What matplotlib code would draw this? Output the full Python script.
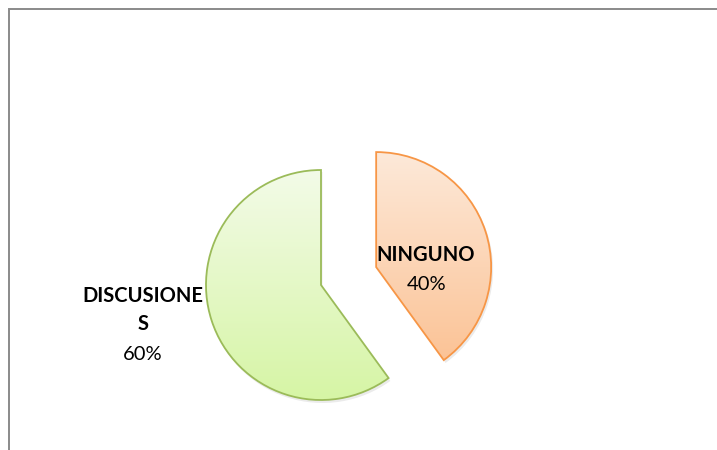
import numpy as np
import matplotlib.pyplot as plt
from matplotlib.patches import Rectangle, Wedge
from matplotlib.colors import LinearSegmentedColormap

labels = ['NINGUNO', 'DISCUSIONES']
values = [40, 60]
edge_colors = ['#f79646', '#9bbb59']
grad_top = ['#fde9d9', '#f3fbe8']
grad_bottom = ['#fbbf8f', '#d6f5a5']

fig = plt.figure(figsize=(7.17, 4.5), dpi=100)
ax = fig.add_axes([0, 0, 1, 1])

# explode is in data units here (axes are in pixels)
wedges, _ = ax.pie(values, startangle=90, counterclock=False,
                   center=(321, 165), radius=115, explode=[58, 0],
                   frame=True,
                   wedgeprops=dict(linewidth=1.3))
ax.set_xlim(0, 717)
ax.set_ylim(0, 450)
ax.axis('off')

for w, ec, c0, c1 in zip(wedges, edge_colors, grad_top, grad_bottom):
    w.set_facecolor('none')
    w.set_edgecolor(ec)
    w.set_zorder(3)
    cx, cy = w.center
    r = w.r
    # faint drop shadow
    ax.add_patch(Wedge((cx + 1.5, cy - 2.5), r + 0.5, w.theta1, w.theta2,
                       facecolor='#000000', alpha=0.08, linewidth=0, zorder=1))
    cmap = LinearSegmentedColormap.from_list('g', [c1, c0])
    grad = np.linspace(0, 1, 256).reshape(-1, 1)
    im = ax.imshow(grad, cmap=cmap, origin='lower', aspect='auto',
                   extent=[cx - r, cx + r, cy - r, cy + r], zorder=2)
    im.set_clip_path(w)

ax.set_xlim(0, 717)
ax.set_ylim(0, 450)

# border
ax.add_patch(Rectangle((8.5, -60), 800, 501.5, fill=False,
                       edgecolor='#8a8a8a', linewidth=1.4, zorder=5))

total = sum(values)
font = ['Lato', 'DejaVu Sans']
fs = 14.5
ax.text(426, 450 - 255, 'NINGUNO', ha='center', va='center',
        fontsize=fs, fontweight='bold', family=font, zorder=6)
ax.text(427, 450 - 285, f'{values[0] * 100 // total}%', ha='center', va='center',
        fontsize=fs, family=font, zorder=6)
ax.text(143, 450 - 296, 'DISCUSIONE', ha='center', va='center',
        fontsize=fs, fontweight='bold', family=font, zorder=6)
ax.text(143, 450 - 324, 'S', ha='center', va='center',
        fontsize=fs, fontweight='bold', family=font, zorder=6)
ax.text(143, 450 - 354, f'{values[1] * 100 // total}%', ha='center', va='center',
        fontsize=fs, family=font, zorder=6)

fig.savefig('out.png', dpi=100)
